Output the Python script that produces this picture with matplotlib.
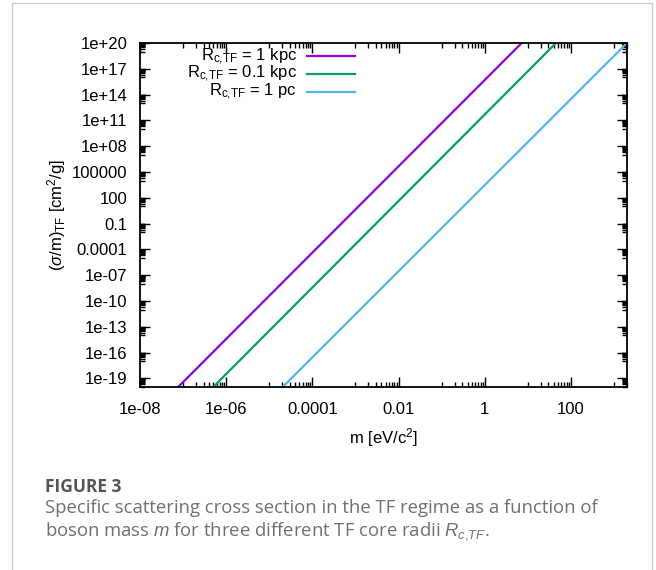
import numpy as np
import matplotlib
matplotlib.use("Agg")
import matplotlib.pyplot as plt
from matplotlib.ticker import FixedLocator, NullFormatter
from matplotlib.patches import Rectangle

# line endpoints (straight lines on log-log axes)
labels = [r"R$_{\mathregular{c{,}TF}}$ = 1 kpc",
          r"R$_{\mathregular{c{,}TF}}$ = 0.1 kpc",
          r"R$_{\mathregular{c{,}TF}}$ = 1 pc"]
colors = ["#9400d3", "#009e73", "#56b4e9"]
m_1kpc = [7.7e-8, 7.2]
m_01kpc = [5.0e-7, 45.0]
m_1pc = [2.05e-5, 2000.0]
sigma = [1e-20, 1e20]

xticks = [1e-8, 1e-6, 1e-4, 1e-2, 1, 100]
xticklabels = ["1e-08", "1e-06", "0.0001", "0.01", "1", "100"]
yticks = [1e20, 1e17, 1e14, 1e11, 1e8, 1e5, 1e2, 1e-1, 1e-4, 1e-7,
          1e-10, 1e-13, 1e-16, 1e-19]
yticklabels = ["1e+20", "1e+17", "1e+14", "1e+11", "1e+08", "100000", "100",
               "0.1", "0.0001", "1e-07", "1e-10", "1e-13", "1e-16", "1e-19"]

plt.rcParams['font.family'] = ['Liberation Sans', 'DejaVu Sans']
plt.rcParams['mathtext.fontset'] = 'custom'
plt.rcParams['mathtext.rm'] = 'Liberation Sans'
plt.rcParams['mathtext.it'] = 'Liberation Sans:italic'

fig = plt.figure(figsize=(6.56, 5.70), dpi=100)

# light frame around the whole figure (open at the bottom)
fig.patches.append(Rectangle((12/656, -0.05), (652-12)/656, 1.05 - 3/570,
                             transform=fig.transFigure, fill=False,
                             edgecolor="#cccccc", lw=1.0))

ax = fig.add_axes([140/656, 1-387/570, (627-140)/656, (387-43)/570])
for mvals, c in zip([m_1kpc, m_01kpc, m_1pc], colors):
    ax.plot(mvals, sigma, color=c, lw=1.6)

ax.set_xscale('log')
ax.set_yscale('log')
ax.set_xlim(1e-8, 2000)
ax.set_ylim(1e-20, 1e20)

ax.xaxis.set_major_locator(FixedLocator(xticks))
ax.set_xticklabels(xticklabels)
ax.yaxis.set_major_locator(FixedLocator(yticks))
ax.set_yticklabels(yticklabels)

# gnuplot-style minor ticks: k*10^(n-1) just below each major
xminor = [k * t / 10 for t in xticks + [1e4] for k in range(1, 10)]
yminor = [k * t / 10 for t in yticks for k in range(1, 10)]
ax.xaxis.set_minor_locator(FixedLocator(xminor))
ax.yaxis.set_minor_locator(FixedLocator(yminor))
ax.xaxis.set_minor_formatter(NullFormatter())
ax.yaxis.set_minor_formatter(NullFormatter())

ax.tick_params(which='both', direction='in', top=True, right=True,
               labelsize=12, width=1.0)
ax.tick_params(which='major', length=7)
ax.tick_params(axis='x', which='major', pad=10.5)
ax.tick_params(axis='y', which='major', pad=9)
ax.tick_params(which='minor', length=3.5)
for s in ax.spines.values():
    s.set_linewidth(1.3)

ax.set_xlabel(r"m [eV/c$^{\mathregular{2}}$]", fontsize=12, labelpad=7)
ax.set_ylabel(r"($\sigma$/m)$_{\mathregular{TF}}$ [cm$^{\mathregular{2}}$/g]",
              fontsize=12, labelpad=3)

# gnuplot-style key: right-aligned text, sample line to the right
rows = [0.961, 0.910, 0.857]
for lab, c, yy in zip(labels, colors, rows):
    ax.text(0.322, yy, lab, transform=ax.transAxes, ha='right', va='center',
            fontsize=12)
    ax.plot([0.343, 0.441], [yy, yy], transform=ax.transAxes, color=c, lw=1.6)

cap_font = ['Open Sans', 'DejaVu Sans']
fig.text(45/656, 1-487/570, "FIGURE 3", fontsize=12.5, fontweight='bold',
         color="#555555", family=cap_font, va='center')
fig.text(45/656, 1-508/570,
         "Specific scattering cross section in the TF regime as a function of",
         fontsize=13.3, color="#707070", family=cap_font, va='center')
fig.text(45/656, 1-531/570,
         r"boson mass $\mathit{m}$ for three different TF core radii "
         r"$\mathit{R}_{\mathit{c{,}TF}}$.",
         fontsize=13.3, color="#707070", family=cap_font, va='center')

fig.savefig("out.png", dpi=100)
